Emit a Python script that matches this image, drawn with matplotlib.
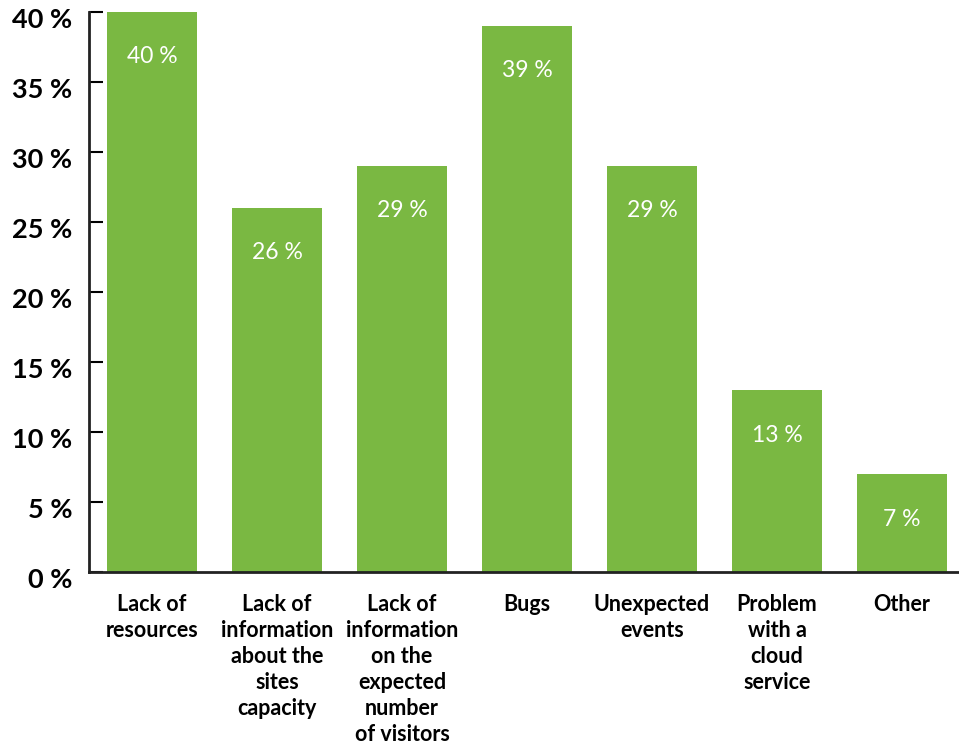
import matplotlib
matplotlib.use("Agg")
import matplotlib.pyplot as plt
import matplotlib.transforms as mtransforms

categories = [
    "Lack of\nresources",
    "Lack of\ninformation\nabout the\nsites\ncapacity",
    "Lack of\ninformation\non the\nexpected\nnumber\nof visitors",
    "Bugs",
    "Unexpected\nevents",
    "Problem\nwith a\ncloud\nservice",
    "Other",
]
shares = [40, 26, 29, 39, 29, 13, 7]
y_ticks = [0, 5, 10, 15, 20, 25, 30, 35, 40]

bar_color = "#7ab842"
plt.rcParams["font.family"] = ["Lato", "DejaVu Sans"]

fig = plt.figure(figsize=(9.59, 7.46), dpi=100)
ax = fig.add_axes([0.0928, 0.2332, 1 - 0.0928, 0.984 - 0.2332])

x = list(range(len(categories)))
bars = ax.bar(x, shares, width=0.72, color=bar_color, zorder=2)

# value labels just below the top of each bar
for xi, v in zip(x, shares):
    ax.annotate(f"{v} %", (xi, v), xytext=(0, -45), textcoords="offset pixels",
                ha="center", va="center", color="white", fontsize=16.5,
                fontweight="normal")

ax.set_xlim(-0.504, len(categories) - 1 + 0.456)
ax.set_ylim(0, 40)
ax.set_yticks(y_ticks)
ax.set_yticklabels([f"{t} %" for t in y_ticks], fontsize=19.5, fontweight="bold")
ax.tick_params(axis="y", direction="in", length=10, width=1.5, pad=12)
ax.tick_params(axis="x", length=0, pad=16)
ax.set_xticks(x)
ax.set_xticklabels(categories, fontsize=15.5, fontweight="bold",
                   linespacing=1.29, va="top")

# nudge y tick labels slightly downward
shift = mtransforms.ScaledTranslation(0, -6 / 100, fig.dpi_scale_trans)
for lbl in ax.get_yticklabels():
    lbl.set_transform(lbl.get_transform() + shift)

for side in ("top", "right"):
    ax.spines[side].set_visible(False)
for side in ("left", "bottom"):
    ax.spines[side].set_linewidth(2)
    ax.spines[side].set_color("#222222")

fig.savefig("out.png", dpi=100)
